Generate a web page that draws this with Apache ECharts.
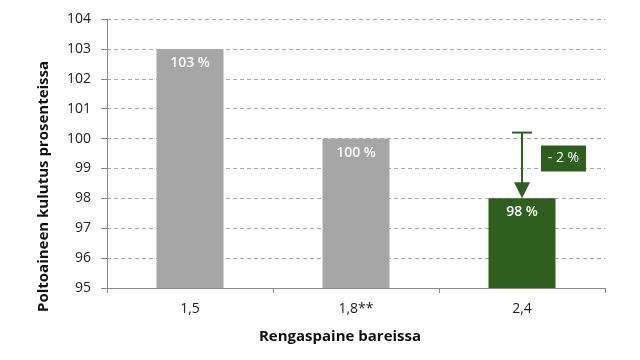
<!DOCTYPE html>
<html><head><meta charset="utf-8">
<script src="https://cdn.jsdelivr.net/npm/echarts@6/dist/echarts.min.js"></script>
<style>html,body{margin:0;padding:0;background:#fff}#c{width:640px;height:360px}</style>
</head><body><div id="c"></div>
<script>
const categories = ['1,5', '1,8**', '2,4'];
const values = [103, 100, 98];
const labels = ['103 %', '100 %', '98 %'];
const barColors = ['#a6a6a6', '#a6a6a6', '#2f5f1f'];
const yTicks = [95, 104];
const changeFrom = 100.2;
const changeTo = 98;
const changeLabel = '- 2 %';
const FONT = '"Open Sans", "Noto Sans", sans-serif';

const chart = echarts.init(document.getElementById('c'), null, {renderer: 'canvas'});
chart.setOption({
  animation: false,
  grid: {left: 107, right: 35, top: 19, bottom: 72},
  xAxis: {
    type: 'category', data: categories,
    axisLine: {lineStyle: {color: '#888', width: 1}},
    axisTick: {show: true, length: 5, lineStyle: {color: '#888'}},
    axisLabel: {color: '#222', fontSize: 14, fontFamily: FONT, margin: 14}
  },
  yAxis: {
    type: 'value', min: yTicks[0], max: yTicks[1], interval: 1,
    axisLine: {show: true, lineStyle: {color: '#888'}},
    axisTick: {show: true, length: 6, lineStyle: {color: '#888'}},
    axisLabel: {color: '#222', fontSize: 14, fontFamily: FONT, margin: 16},
    splitLine: {lineStyle: {color: '#a8a8a8', type: [4, 3]}}
  },
  graphic: [
    {type: 'text', rotation: Math.PI/2, x: 36, y: 312, style: {
      text: 'Poltoaineen kulutus prosenteissa', fontSize: 15, fontWeight: 'bold', fontFamily: FONT, fill: '#111'
    }},
    {type: 'text', style: {text: 'Rengaspaine bareissa', fontSize: 15, fontWeight: 'bold', fontFamily: FONT, fill: '#111',
      x: 340, y: 337, align: 'center', verticalAlign: 'middle'}}
  ],
  series: [
    {
      type: 'bar', barWidth: 67,
      data: values.map((v, i) => ({value: v, itemStyle: {color: barColors[i]}, label: {formatter: labels[i]}})),
      label: {show: true, position: 'insideTop', distance: 7, color: '#fff', fontSize: 14, fontWeight: 600, fontFamily: FONT}
    },
    {
      type: 'custom', z: 10,
      data: [[2, changeFrom, changeTo]],
      renderItem: function (params, api) {
        const top = api.coord([api.value(0), api.value(1)]);
        const bot = api.coord([api.value(0), api.value(2)]);
        const x = top[0];
        const col = '#2f5f1f';
        const midY = api.coord([api.value(0), (api.value(1) + api.value(2)) / 2])[1];
        return {type: 'group', children: [
          {type: 'line', shape: {x1: x, y1: top[1], x2: x, y2: bot[1] - 14}, style: {stroke: col, lineWidth: 2}},
          {type: 'line', shape: {x1: x - 10, y1: top[1], x2: x + 10, y2: top[1]}, style: {stroke: col, lineWidth: 2}},
          {type: 'polygon', shape: {points: [[x - 8, bot[1] - 16], [x + 8, bot[1] - 16], [x, bot[1]]]}, style: {fill: col}},
          {type: 'rect', shape: {x: x + 19, y: midY - 13 - 7, width: 45, height: 26}, style: {fill: col}},
          {type: 'text', style: {text: changeLabel, x: x + 41.5, y: midY - 7, align: 'center', verticalAlign: 'middle',
            fill: '#fff', fontSize: 14, fontFamily: FONT}}
        ]};
      }
    }
  ]
});
</script></body></html>
